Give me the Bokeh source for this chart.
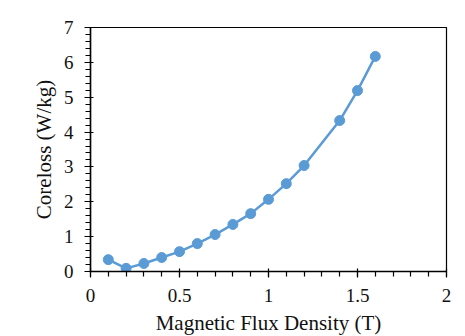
from bokeh.plotting import figure
from bokeh.embed import file_html
from bokeh.resources import INLINE
from bokeh.models import Range1d, FixedTicker

flux = [0.1, 0.2, 0.3, 0.4, 0.5, 0.6, 0.7, 0.8, 0.9, 1.0, 1.1, 1.2, 1.4, 1.5, 1.6]
coreloss = [0.34, 0.09, 0.23, 0.40, 0.57, 0.80, 1.06, 1.35, 1.66, 2.07, 2.52, 3.04, 4.33, 5.19, 6.17]
x_ticks = [0, 0.5, 1, 1.5, 2]
y_ticks = [0, 1, 2, 3, 4, 5, 6, 7]

FONT = "Liberation Serif"
BLUE = "#5B9BD5"

p = figure(width=452, height=335, output_backend="svg", toolbar_location=None,
           x_range=Range1d(0, 2), y_range=Range1d(0, 7),
           min_border_left=86, min_border_right=10, min_border_top=23, min_border_bottom=68,
           margin=(4, 0, 0, 4))

p.line(flux, coreloss, line_color=BLUE, line_width=2.5)
p.scatter(flux, coreloss, size=10, fill_color=BLUE, line_color=BLUE)

p.xgrid.visible = False
p.ygrid.visible = False
p.outline_line_color = "black"
p.outline_line_width = 1.2

p.xaxis.ticker = FixedTicker(ticks=x_ticks, minor_ticks=[i / 10 for i in range(21)])
p.yaxis.ticker = FixedTicker(ticks=y_ticks, minor_ticks=[i / 5 for i in range(36)])
p.xaxis.major_label_overrides = {0: "0", 0.5: "0.5", 1: "1", 1.5: "1.5", 2: "2"}

p.axis.axis_line_color = "black"
p.axis.axis_line_width = 1.5
p.axis.major_tick_line_color = "black"
p.axis.minor_tick_line_color = "black"
p.axis.major_tick_line_width = 1.2
p.axis.minor_tick_line_width = 1.2
p.axis.major_tick_in = 3
p.axis.major_tick_out = 6
p.axis.minor_tick_in = 0
p.axis.minor_tick_out = 5
p.axis.major_label_text_font = FONT
p.axis.major_label_text_font_size = "19px"
p.axis.major_label_text_color = "#111111"
p.axis.axis_label_text_font = FONT
p.axis.axis_label_text_font_size = "21px"
p.axis.axis_label_text_font_style = "normal"
p.axis.axis_label_text_color = "#111111"

p.xaxis.axis_label = "Magnetic Flux Density (T)"
p.yaxis.axis_label = "Coreloss (W/kg)"
p.xaxis.major_label_standoff = 11
p.yaxis.major_label_standoff = 11
p.xaxis.axis_label_standoff = 6
p.yaxis.axis_label_standoff = 5

open("out.html", "w").write(file_html(p, INLINE))
